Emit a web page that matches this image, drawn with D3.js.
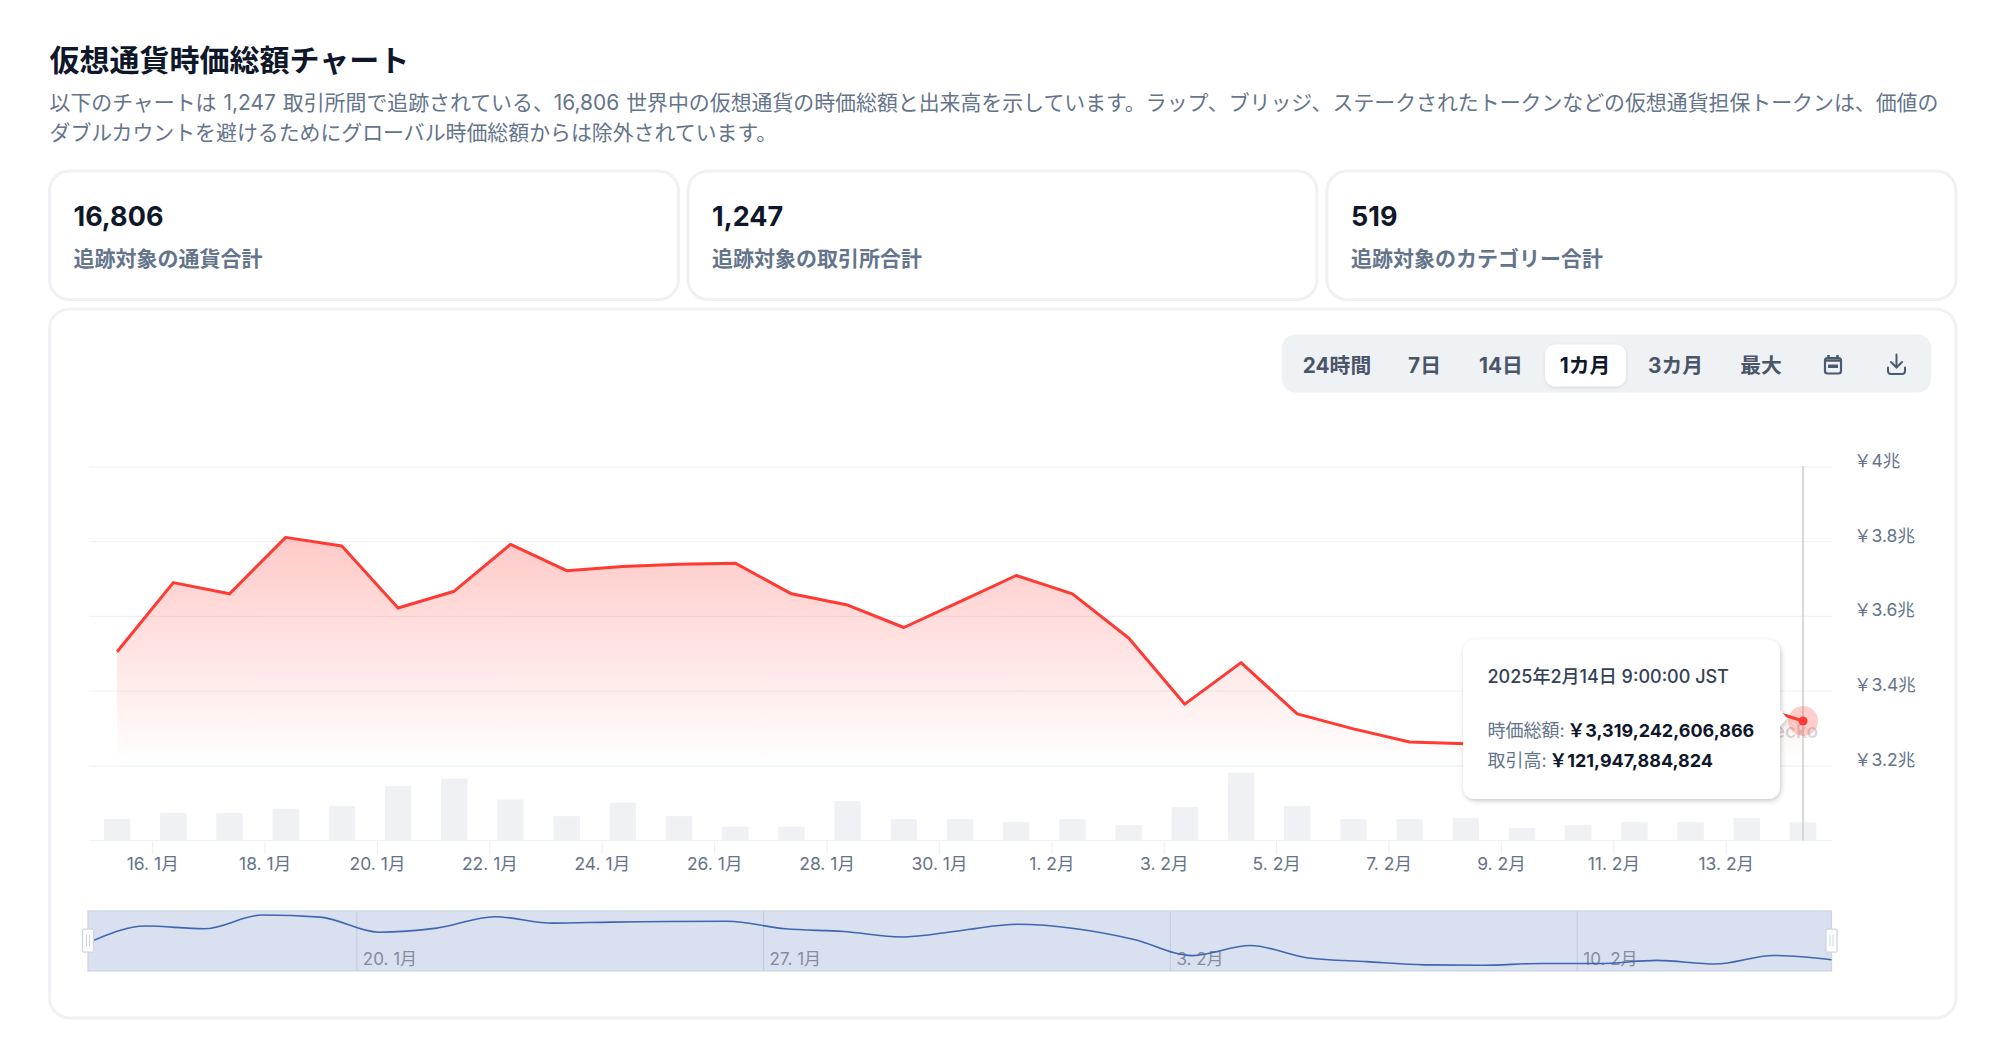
<!DOCTYPE html>
<html lang="ja">
<head>
	<meta charset="utf-8">
	<title>仮想通貨時価総額チャート</title>
	<script src="https://d3js.org/d3.v7.min.js" charset="utf-8"></script>
	<style>
	html, body { margin: 0; background: #fff; }
	svg { display: block; }
	text { font-family: Inter, "Noto Sans CJK JP", sans-serif; }
	</style>
</head>
<body>
	<script>
	var dates = ["2025-01-15","2025-01-16","2025-01-17","2025-01-18","2025-01-19","2025-01-20","2025-01-21","2025-01-22","2025-01-23","2025-01-24","2025-01-25","2025-01-26","2025-01-27","2025-01-28","2025-01-29","2025-01-30","2025-01-31","2025-02-01","2025-02-02","2025-02-03","2025-02-04","2025-02-05","2025-02-06","2025-02-07","2025-02-08","2025-02-09","2025-02-10","2025-02-11","2025-02-12","2025-02-13","2025-02-14"];
	// market cap, in 兆 yen
	var marketCap = [3.504,3.689,3.659,3.810,3.787,3.621,3.666,3.791,3.721,3.732,3.738,3.741,3.659,3.629,3.569,3.638,3.708,3.659,3.541,3.364,3.475,3.338,3.298,3.263,3.258,3.278,3.278,3.312,3.272,3.366,3.319];
	// volume, in billions of yen
	var volume = [142,182,182,213,231,362,413,273,162,253,162,93,93,262,142,142,122,142,102,222,453,231,142,142,151,82,102,122,122,151,121.9];

	var priceTicks = [3.2,3.4,3.6,3.8,4];
	var axisDates = ["2025-01-16","2025-01-18","2025-01-20","2025-01-22","2025-01-24","2025-01-26","2025-01-28","2025-01-30","2025-02-01","2025-02-03","2025-02-05","2025-02-07","2025-02-09","2025-02-11","2025-02-13"];
	var navDates = ["2025-01-20","2025-01-27","2025-02-03","2025-02-10"];

	var statValues = ["16,806","1,247","519"];
	var statLabels = ["追跡対象の通貨合計","追跡対象の取引所合計","追跡対象のカテゴリー合計"];
	var rangeLabels = ["24時間","7日","14日","1カ月","3カ月","最大"];
	var activeRange = "1カ月";

	var yen = "\uFFE5";
	var ink = "#0f172a";
	var slate = "#64748b";
	var border = "#f0f1f5";

	var width = 1996;
	var height = 1046;

	var svg = d3.select("body").append("svg")
		.attr("width", width)
		.attr("height", height);

	var defs = svg.append("defs");
	var grad = defs.append("linearGradient")
		.attr("id", "capFill")
		.attr("x1", 0).attr("y1", 0).attr("x2", 0).attr("y2", 1);
	grad.append("stop").attr("offset", "0%").attr("stop-color", "#ff3a33").attr("stop-opacity", 0.27);
	grad.append("stop").attr("offset", "100%").attr("stop-color", "#ff3a33").attr("stop-opacity", 0);

	var shadow = defs.append("filter").attr("id", "tipShadow")
		.attr("x", "-10%").attr("y", "-10%").attr("width", "120%").attr("height", "125%");
	shadow.append("feDropShadow").attr("dx", 1).attr("dy", 2).attr("stdDeviation", 2.5)
		.attr("flood-color", "#000").attr("flood-opacity", 0.22);
	var btnShadow = defs.append("filter").attr("id", "btnShadow")
		.attr("x", "-10%").attr("y", "-10%").attr("width", "120%").attr("height", "130%");
	btnShadow.append("feDropShadow").attr("dx", 0).attr("dy", 1).attr("stdDeviation", 1.5)
		.attr("flood-color", "#000").attr("flood-opacity", 0.12);

	// header
	svg.append("text").attr("x", 49.5).attr("y", 60)
		.attr("dominant-baseline", "central")
		.attr("font-size", 30).attr("font-weight", 700).attr("fill", ink)
		.text("仮想通貨時価総額チャート");

	var descLines = [
		"以下のチャートは 1,247 取引所間で追跡されている、16,806 世界中の仮想通貨の時価総額と出来高を示しています。ラップ、ブリッジ、ステークされたトークンなどの仮想通貨担保トークンは、価値の",
		"ダブルカウントを避けるためにグローバル時価総額からは除外されています。"
	];
	svg.selectAll(".desc").data(descLines).enter().append("text")
		.attr("class", "desc")
		.attr("x", 49.5)
		.attr("y", function(d, i) { return 102 + i * 30; })
		.attr("dominant-baseline", "central")
		.attr("font-size", 20.9).attr("word-spacing", 1.2).attr("fill", slate)
		.text(function(d) { return d; });

	// stat cards
	var cardX = [49.5, 688, 1327];
	var cardW = 629;
	var cards = svg.selectAll(".card").data(statValues).enter().append("g")
		.attr("class", "card")
		.attr("transform", function(d, i) { return "translate(" + cardX[i] + ",171)"; });
	cards.append("rect")
		.attr("width", cardW).attr("height", 128.5)
		.attr("rx", 20)
		.attr("fill", "#fff").attr("stroke", border).attr("stroke-width", 3);
	cards.append("text").attr("x", 24).attr("y", 45.5)
		.attr("dominant-baseline", "central")
		.attr("font-size", 27).attr("font-weight", 700).attr("fill", ink)
		.text(function(d) { return d; });
	cards.append("text").attr("x", 24).attr("y", 87)
		.attr("dominant-baseline", "central")
		.attr("font-size", 21).attr("font-weight", 700).attr("fill", slate)
		.text(function(d, i) { return statLabels[i]; });

	// chart card
	svg.append("rect")
		.attr("x", 49.5).attr("y", 309).attr("width", 1906.5).attr("height", 709)
		.attr("rx", 20)
		.attr("fill", "#fff").attr("stroke", border).attr("stroke-width", 3);

	// range buttons
	var rangeX = [1337, 1424.5, 1501, 1585, 1675.5, 1761];
	var bar = svg.append("g");
	bar.append("rect").attr("x", 1282).attr("y", 334.5).attr("width", 649).attr("height", 58)
		.attr("rx", 13).attr("fill", "#eff2f5");
	bar.append("rect").attr("x", 1545).attr("y", 344.5).attr("width", 81).attr("height", 42)
		.attr("rx", 10).attr("fill", "#fff").attr("filter", "url(#btnShadow)");
	bar.selectAll("text").data(rangeLabels).enter().append("text")
		.attr("x", function(d, i) { return rangeX[i]; })
		.attr("y", 365)
		.attr("text-anchor", "middle").attr("dominant-baseline", "central")
		.attr("font-size", 20.8).attr("font-weight", 700)
		.attr("fill", function(d) { return d == activeRange ? ink : "#4a5568"; })
		.text(function(d) { return d; });

	// calendar and download icons
	var icons = bar.append("g").attr("fill", "none").attr("stroke", "#4a5a70");
	icons.append("rect").attr("x", 1825).attr("y", 358).attr("width", 16).attr("height", 15.5)
		.attr("rx", 2.5).attr("stroke-width", 2.2);
	icons.append("path").attr("d", "M1825 360.5h16M1828.5 355v3M1837.5 355v3").attr("stroke-width", 2.6);
	icons.append("rect").attr("x", 1828).attr("y", 364.5).attr("width", 10).attr("height", 3.5)
		.attr("fill", "#4a5a70").attr("stroke", "none");
	icons.append("path").attr("d", "M1896.5 354.5v13M1891 362l5.5 5.5l5.5 -5.5M1888 367.5v3.5q0 3 3 3h11q3 0 3 -3v-3.5")
		.attr("stroke-width", 2).attr("stroke-linecap", "round");

	// scales
	var parseDay = d3.utcParse("%Y-%m-%d");
	// data points are stamped 9:00 JST, ticks sit at midnight
	var parsePoint = function(s) { return d3.utcHour.offset(parseDay(s), 9); };
	var times = dates.map(parsePoint);
	var rows = times.map(function(t, i) { return { time: t, cap: marketCap[i], vol: volume[i] }; });

	var x = d3.scaleUtc().domain(d3.extent(times)).range([117.1, 1803]);
	var y = d3.scaleLinear().domain([3.2, 4]).range([765.5, 466.3]);
	var yVol = d3.scaleLinear().domain([0, 500]).range([840.5, 765.5]);
	var xNav = d3.scaleUtc().domain(d3.extent(times)).range([88, 1831.5]);
	var yNav = d3.scaleLinear().domain(d3.extent(marketCap)).range([965.3, 915]);

	var plotLeft = 89, plotRight = 1832;

	// grid and price labels
	var grid = svg.append("g").attr("class", "y-axis")
		.attr("transform", "translate(" + plotRight + ",0)")
		.call(d3.axisRight(y)
			.tickValues(priceTicks)
			.tickSize(-(plotRight - plotLeft))
			.tickPadding(22)
			.tickFormat(function(d) { return yen + d + "兆"; }));
	grid.select(".domain").remove();
	grid.selectAll("line").attr("stroke", "#eff2f5").attr("stroke-width", 1.25);
	grid.selectAll("text")
		.attr("dy", -6.5)
		.attr("dominant-baseline", "central")
		.attr("font-size", 17.5).attr("fill", slate)
		.style("font-family", 'Inter, "Noto Sans CJK JP", sans-serif');

	// volume bars
	svg.append("g").selectAll("rect").data(rows).enter().append("rect")
		.attr("x", function(d) { return x(d.time) - 13.2; })
		.attr("y", function(d) { return yVol(d.vol); })
		.attr("width", 26.4)
		.attr("height", function(d) { return yVol(0) - yVol(d.vol); })
		.attr("fill", "#f0f1f5");

	// x axis
	var xAxis = svg.append("g").attr("class", "x-axis")
		.attr("transform", "translate(0,840.5)")
		.call(d3.axisBottom(x)
			.tickValues(axisDates.map(parseDay))
			.tickSize(14)
			.tickPadding(3)
			.tickFormat(d3.utcFormat("%-d. %-m月")));
	xAxis.select(".domain").remove();
	xAxis.append("line").attr("x1", plotLeft).attr("x2", plotRight)
		.attr("stroke", "#eff2f5").attr("stroke-width", 1.25);
	xAxis.selectAll(".tick line").attr("stroke", "#eff2f5").attr("stroke-width", 1.25);
	xAxis.selectAll("text")
		.attr("font-size", 17.5).attr("fill", slate)
		.style("font-family", 'Inter, "Noto Sans CJK JP", sans-serif');

	// market cap area and line
	var area = d3.area()
		.x(function(d) { return x(d.time); })
		.y0(y(3.2))
		.y1(function(d) { return y(d.cap); });
	var line = d3.line()
		.x(function(d) { return x(d.time); })
		.y(function(d) { return y(d.cap); });

	svg.append("path").datum(rows)
		.attr("d", area).attr("fill", "url(#capFill)");
	svg.append("path").datum(rows)
		.attr("d", line)
		.attr("fill", "none").attr("stroke", "#ff3a33").attr("stroke-width", 3)
		.attr("stroke-linejoin", "round");

	// the visible end of the watermark, the rest is hidden by the tooltip
	svg.append("text").attr("x", 1818).attr("y", 731)
		.attr("text-anchor", "end").attr("dominant-baseline", "central")
		.attr("font-size", 19).attr("font-weight", 600).attr("fill", "#000").attr("fill-opacity", 0.17)
		.text("ecko");

	// hover marker
	var last = rows[rows.length - 1];
	svg.append("line")
		.attr("x1", x(last.time)).attr("x2", x(last.time))
		.attr("y1", y(4)).attr("y2", yVol(0))
		.attr("stroke", "#cccccc").attr("stroke-width", 1.5);
	svg.append("circle")
		.attr("cx", x(last.time)).attr("cy", y(last.cap)).attr("r", 15)
		.attr("fill", "#ff3a33").attr("fill-opacity", 0.25);
	svg.append("circle")
		.attr("cx", x(last.time)).attr("cy", y(last.cap)).attr("r", 4.5)
		.attr("fill", "#ff3a33");

	// tooltip
	var tip = svg.append("g");
	tip.append("path")
		.attr("d", "M1477 639.5H1766Q1780 639.5 1780 653.5V710L1787 718L1780 726V785Q1780 799 1766 799H1477Q1463 799 1463 785V653.5Q1463 639.5 1477 639.5Z")
		.attr("fill", "#fff").attr("filter", "url(#tipShadow)");
	tip.append("text").attr("x", 1487.5).attr("y", 676)
		.attr("dominant-baseline", "central")
		.attr("font-size", 18).attr("font-weight", 500).attr("fill", "#334155")
		.text("2025年2月14日 9:00:00 JST");
	var tipCap = tip.append("text").attr("x", 1487.5).attr("y", 730)
		.attr("dominant-baseline", "central").attr("font-size", 18);
	tipCap.append("tspan").attr("fill", slate).text("時価総額: ");
	tipCap.append("tspan").attr("dx", -2.5).attr("fill", ink).attr("font-weight", 700).text(yen + "3,319,242,606,866");
	var tipVol = tip.append("text").attr("x", 1487.5).attr("y", 760)
		.attr("dominant-baseline", "central").attr("font-size", 18);
	tipVol.append("tspan").attr("fill", slate).text("取引高: ");
	tipVol.append("tspan").attr("dx", -2.5).attr("fill", ink).attr("font-weight", 700).text(yen + "121,947,884,824");

	// navigator
	var nav = svg.append("g");
	nav.append("rect")
		.attr("x", xNav.range()[0]).attr("y", 911)
		.attr("width", xNav.range()[1] - xNav.range()[0]).attr("height", 60)
		.attr("fill", "#d9e0ef").attr("stroke", "#ccd6e6").attr("stroke-width", 1.25);

	var navTicks = nav.selectAll(".nav-tick").data(navDates.map(parseDay)).enter().append("g")
		.attr("class", "nav-tick")
		.attr("transform", function(d) { return "translate(" + xNav(d) + ",0)"; });
	navTicks.append("line").attr("y1", 911).attr("y2", 971)
		.attr("stroke", "#c6cfdf").attr("stroke-width", 1.25);
	navTicks.append("text").attr("x", 6).attr("y", 958.5)
		.attr("dominant-baseline", "central")
		.attr("font-size", 17).attr("fill", "#858c9c")
		.text(d3.utcFormat("%-d. %-m月"));

	var navLine = d3.line()
		.x(function(d) { return xNav(d.time); })
		.y(function(d) { return yNav(d.cap); })
		.curve(d3.curveMonotoneX);
	nav.append("path").datum(rows)
		.attr("d", navLine)
		.attr("fill", "none").attr("stroke", "#3f66b0").attr("stroke-width", 1.6);

	var handles = nav.selectAll(".handle").data(xNav.range()).enter().append("g")
		.attr("class", "handle")
		.attr("transform", function(d) { return "translate(" + d + ",940.5)"; });
	handles.append("rect")
		.attr("x", -5.5).attr("y", -11.5).attr("width", 11).attr("height", 23).attr("rx", 1)
		.attr("fill", "#fff").attr("stroke", "#ccd6e6").attr("stroke-width", 1.25);
	handles.append("path")
		.attr("d", "M-1.5 -6v12M1.5 -6v12")
		.attr("stroke", "#ccd6e6").attr("stroke-width", 1);
	</script>
</body>
</html>
